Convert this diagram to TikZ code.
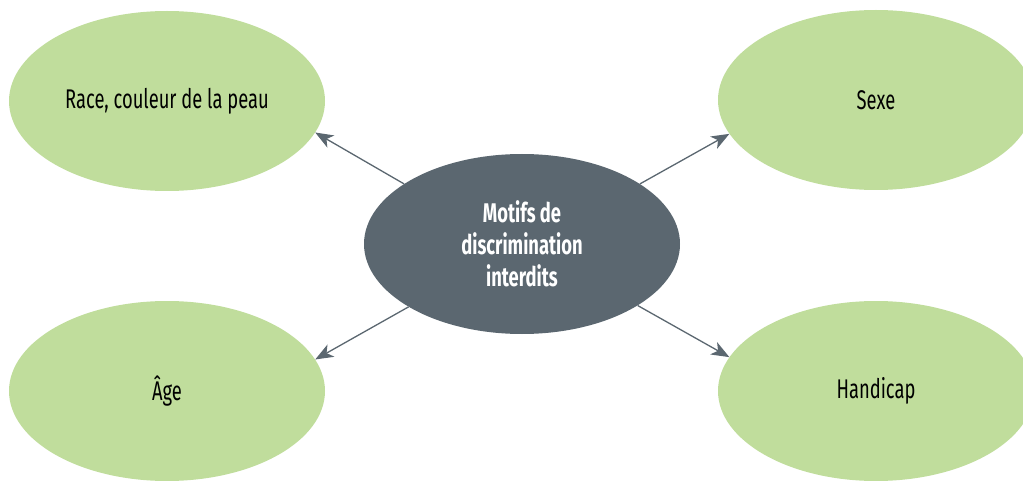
\documentclass[tikz,border=0pt]{standalone}
\usepackage{fontspec}
\setmainfont{Fira Sans}[FakeStretch=0.68]
\usepackage{tikz}
\usetikzlibrary{shapes.geometric,arrows.meta}
\definecolor{vert}{HTML}{C0DD9C}
\definecolor{ardoise}{HTML}{5B6770}

\begin{document}
\begin{tikzpicture}[x=1pt,y=-1pt,
  bulle/.style={ellipse,fill=vert,minimum width=316pt,minimum height=180pt,inner sep=0pt,
    font=\fontsize{27}{32}\selectfont},
  fleche/.style={ardoise,line width=1.3pt,-{Stealth[length=18pt,width=14pt,inset=5pt]}}]
\useasboundingbox (0,0) rectangle (1023,481);
\node[bulle] (race) at (167,101){Race, couleur de la peau};
\node[bulle] (sexe) at (876,100){Sexe};
\node[bulle] (age) at (167,391){Âge};
\node[bulle] (handicap) at (876,391){Handicap};
\node[bulle,fill=ardoise,text=white,align=center,font=\fontsize{27}{32}\selectfont\bfseries] (motifs) at (522,244){Motifs de\\discrimination\\interdits};
% fleches
\draw[fleche] (motifs.153) -- (race.-12);
\draw[fleche] (motifs.27) -- (sexe.193);
\draw[fleche] (motifs.209) -- (age.12);
\draw[fleche] (motifs.-28) -- (handicap.167);
\end{tikzpicture}
\end{document}
